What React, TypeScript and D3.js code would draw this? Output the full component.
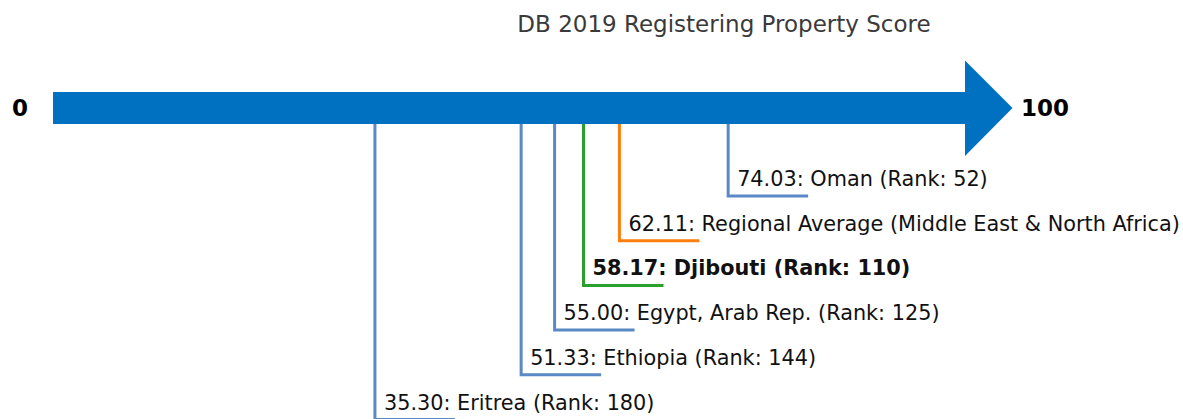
import React from "react";
import * as d3 from "d3";

const names = [
  "Oman (Rank: 52)",
  "Regional Average (Middle East & North Africa)",
  "Djibouti (Rank: 110)",
  "Egypt, Arab Rep. (Rank: 125)",
  "Ethiopia (Rank: 144)",
  "Eritrea (Rank: 180)",
];
const scores = [74.03, 62.11, 58.17, 55.0, 51.33, 35.3];
const kinds = ["peer", "region", "focus", "peer", "peer", "peer"];
const title = "DB 2019 Registering Property Score";
const domainLabels = ["0", "100"];

const W = 1183;
const H = 419;
const colors: Record<string, string> = {
  peer: "#5a89c6",
  region: "#ff7f0e",
  focus: "#2ca02c",
};

export default function App() {
  const x = d3.scaleLinear().domain([0, 100]).range([53, 965]);
  const row = d3.scaleLinear().domain([0, 1]).range([196, 240.7]);
  const shaftTop = 92;
  const shaftBot = 124;
  const cy = 108;
  const font = "'DejaVu Sans', sans-serif";

  const arrowPath = [
    `M${x(0)},${shaftTop}`,
    `L${x(100)},${shaftTop}`,
    `L${x(100)},${60.5}`,
    `L${1012.5},${cy}`,
    `L${x(100)},${156}`,
    `L${x(100)},${shaftBot}`,
    `L${x(0)},${shaftBot}`,
    "Z",
  ].join(" ");

  return (
    <svg
      width={W}
      height={H}
      style={{ position: "absolute", left: 0, top: 0, background: "#fff" }}
      fontFamily={font}
    >
      <text x={724} y={32} textAnchor="middle" fontSize={23} fill="#3a3a3a">
        {title}
      </text>
      {scores.map((s, i) => {
        const xv = x(s);
        const yv = row(i);
        const c = colors[kinds[i]];
        return (
          <g key={i}>
            <path
              d={`M${xv},${shaftBot} L${xv},${yv} L${xv + 80},${yv}`}
              fill="none"
              stroke={c}
              strokeWidth={3}
            />
            <text
              x={xv + 9}
              y={yv - 10}
              fontSize={20.8}
              fill="#111"
              fontWeight={kinds[i] === "focus" ? "bold" : "normal"}
            >
              {`${s.toFixed(2)}: ${names[i]}`}
            </text>
          </g>
        );
      })}
      <path d={arrowPath} fill="#0070c0" />
      <text x={12} y={cy} dominantBaseline="central" fontSize={23} fontWeight="bold" fill="#000">
        {domainLabels[0]}
      </text>
      <text x={1021} y={cy} dominantBaseline="central" fontSize={23} fontWeight="bold" fill="#000">
        {domainLabels[1]}
      </text>
    </svg>
  );
}
